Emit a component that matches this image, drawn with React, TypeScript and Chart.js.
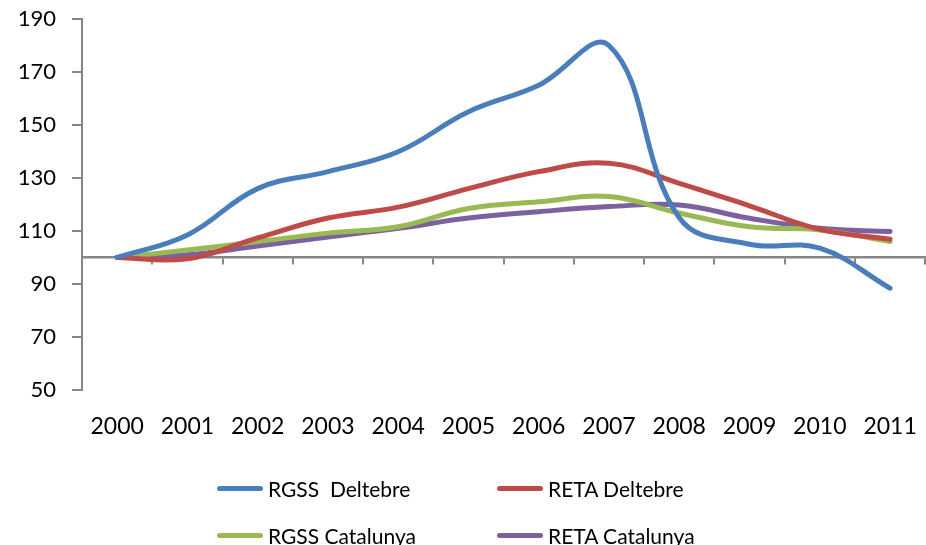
import React, { useEffect, useRef } from "react";
import { Chart, registerables } from "chart.js";

Chart.register(...registerables);

const years = ["2000", "2001", "2002", "2003", "2004", "2005", "2006", "2007", "2008", "2009", "2010", "2011"];
const rgssDeltebre = [100, 108.5, 126, 132.4, 139.9, 155, 165, 180, 115, 105, 103.5, 88.4];
const retaDeltebre = [100, 99.5, 107.4, 114.9, 119, 126, 132.4, 135.6, 128, 119.5, 110.6, 106.9];
const rgssCatalunya = [100, 102.8, 106, 109.2, 111.6, 118.5, 121, 123, 116.8, 111.6, 110.4, 106];
const retaCatalunya = [100, 101, 104.3, 107.7, 111, 114.9, 117.3, 119.2, 119.8, 114.8, 111, 109.8];
const seriesNames = ["RGSS  Deltebre", "RETA Deltebre", "RGSS Catalunya", "RETA Catalunya"];
const seriesColors = ["#4A7EBB", "#BE4B48", "#98B954", "#7D60A0"];
const yMin = 50;
const yMax = 190;
const yStep = 20;
const crossValue = 100;

const FONT = "Lato, 'Open Sans', sans-serif";
const AXIS_GRAY = "#868686";

export default function App() {
  const ref = useRef<HTMLCanvasElement | null>(null);

  useEffect(() => {
    if (!ref.current) return;
    const seriesData = [rgssDeltebre, retaDeltebre, rgssCatalunya, retaCatalunya];
    const chart = new Chart(ref.current, {
      type: "line",
      data: {
        labels: years,
        datasets: seriesData.map((d, i) => ({
          label: seriesNames[i],
          data: d,
          borderColor: seriesColors[i],
          backgroundColor: seriesColors[i],
          borderWidth: 5,
          borderCapStyle: "round" as const,
          borderJoinStyle: "round" as const,
          pointRadius: 0,
          pointHoverRadius: 0,
          tension: 0.4,
          fill: false,
          xAxisID: "x",
          yAxisID: "y",
        })),
      },
      options: {
        responsive: false,
        animation: false,
        devicePixelRatio: 1,
        layout: { padding: { left: 0, top: 19, right: 6, bottom: 95 } },
        plugins: {
          legend: { display: false },
          tooltip: { enabled: false },
        },
        scales: {
          x: {
            type: "category",
            position: "bottom",
            offset: true,
            grid: { display: false, drawTicks: false },
            border: { display: false },
            ticks: {
              color: "#000",
              font: { family: FONT, size: 23 },
              padding: 23,
              maxRotation: 0,
              autoSkip: false,
            },
            afterFit: (s: any) => {
              s.height = 60;
            },
          },
          x2: {
            type: "category",
            position: { y: crossValue } as any,
            offset: true,
            grid: {
              display: true,
              offset: true,
              drawOnChartArea: false,
              drawTicks: true,
              tickLength: 6,
              color: AXIS_GRAY,
              lineWidth: 2,
            },
            border: { display: true, color: AXIS_GRAY, width: 2.5 },
            ticks: { display: false },
            afterFit: (s: any) => {
              s.height = 0;
            },
          },
          y: {
            type: "linear",
            min: yMin,
            max: yMax,
            ticks: {
              stepSize: yStep,
              color: "#000",
              font: { family: FONT, size: 22 },
              padding: 16,
            },
            grid: {
              display: true,
              drawOnChartArea: false,
              drawTicks: true,
              tickLength: 10,
              color: AXIS_GRAY,
              lineWidth: 2,
            },
            border: { display: true, color: AXIS_GRAY, width: 2 },
            afterFit: (s: any) => {
              s.width = 82;
              s.paddingTop = 12;
              s.paddingBottom = 12;
            },
          },
        },
      },
    });
    return () => chart.destroy();
  }, []);

  const legendRows = [
    [0, 1],
    [2, 3],
  ];
  const colX = [217, 497];
  const rowY = [488, 535];

  return (
    <div
      style={{
        position: "fixed",
        left: 0,
        top: 0,
        width: 926,
        height: 545,
        overflow: "hidden",
        background: "#fff",
      }}
    >
      <canvas ref={ref} width={940} height={545} style={{ display: "block", width: 940, height: 545 }} />
      {legendRows.map((row, r) =>
        row.map((si, c) => (
          <div
            key={si}
            style={{
              position: "absolute",
              left: colX[c],
              top: rowY[r] - 14,
              height: 28,
              display: "flex",
              alignItems: "center",
              fontFamily: FONT,
              fontSize: 21,
              color: "#000",
              whiteSpace: "pre",
            }}
          >
            <span
              style={{
                display: "inline-block",
                width: 46,
                height: 5,
                borderRadius: 3,
                background: seriesColors[si],
                marginRight: 5,
              }}
            />
            <span>{seriesNames[si]}</span>
          </div>
        ))
      )}
    </div>
  );
}
